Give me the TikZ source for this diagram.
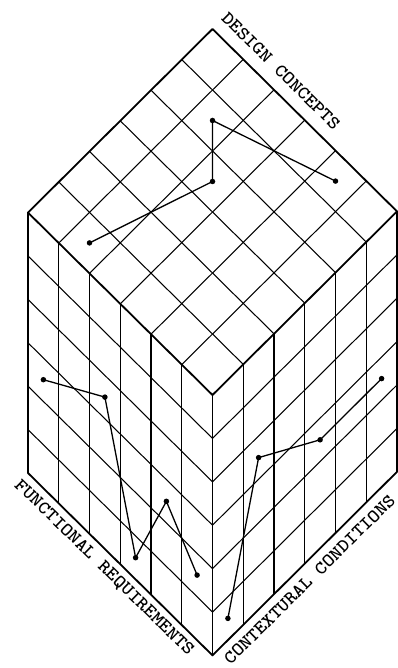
\documentclass[tikz,border=0pt]{standalone}
\usepackage{fontspec}
\newfontfamily\typewriter{lmmonolt10-bold.otf}
\newcommand{\axistext}[1]{\scalebox{1.09}[1]{\typewriter\fontsize{18.5}{18.5}\selectfont #1}}
\begin{document}
\begin{tikzpicture}[x=1pt,y=-1pt,
  inner/.style={line width=1.05pt},
  outer/.style={line width=1.8pt, line join=round, line cap=round},
  dataline/.style={line width=1.3pt, line join=round},
  dot/.style={circle, fill=black, inner sep=0pt, minimum size=5.5pt},
  axislabel/.style={inner sep=0pt}]
\useasboundingbox (0,0) rectangle (398,668);
% cube corners
\coordinate (T) at (212.5,29);
\coordinate (L) at (28,212.6);
\coordinate (R) at (397,211.4);
\coordinate (F) at (212.5,395);
\coordinate (LB) at (28,473);
\coordinate (FB) at (212.5,655.4);
\coordinate (RB) at (397,471.8);
% top face grid
\foreach \i in {1,...,5} {
  \draw[inner] (212.5-30.75*\i, 29+30.6*\i) -- ++(184.5,182.4);
  \draw[inner] (212.5+30.75*\i, 29+30.4*\i) -- ++(-184.5,183.6);
}
% left face grid
\foreach \i in {1,...,5} {
  \draw[inner] (28+30.75*\i, 212.6+30.4*\i) -- ++(0,260.4);
  \draw[inner] (28, 212.6+43.4*\i) -- ++(184.5,182.4);
}
% right face grid
\foreach \i in {1,...,5} {
  \draw[inner] (212.5+30.75*\i, 395-30.6*\i) -- ++(0,260.4);
  \draw[inner] (212.5, 395+43.4*\i) -- ++(184.5,-183.6);
}
% outer edges
\draw[outer] (T) -- (L) -- (F) -- (R) -- cycle;
\draw[outer] (L) -- (LB) -- (FB) -- (RB) -- (R);
\draw[outer] (F) -- (FB);
% design concepts (top face)
\node[dot] (c1) at (89.5,242.9) {};
\node[dot] (c2) at (212.5,181.5) {};
\node[dot] (c3) at (212.5,120.5) {};
\node[dot] (c4) at (335.5,181.1) {};
\draw[dataline] (c1.center) -- (c2.center) -- (c3.center) -- (c4.center);
% functional requirements (left face)
\node[dot] (f1) at (43.4,379.7) {};
\node[dot] (f2) at (104.9,397.1) {};
\node[dot] (f3) at (135.6,557.7) {};
\node[dot] (f4) at (166.4,501.3) {};
\node[dot] (f5) at (197.1,575.1) {};
\draw[dataline] (f1.center) -- (f2.center) -- (f3.center) -- (f4.center) -- (f5.center);
% contextural conditions (right face)
\node[dot] (k1) at (227.9,618.4) {};
\node[dot] (k2) at (258.6,457.6) {};
\node[dot] (k3) at (320.1,439.8) {};
\node[dot] (k4) at (381.6,378.6) {};
\draw[dataline] (k1.center) -- (k2.center) -- (k3.center) -- (k4.center);
% labels
\node[axislabel, rotate=-44.7] (dc) at (281,71) {\axistext{DESIGN CONCEPTS}};
\node[axislabel, rotate=-44.3] (fr) at (104,568) {\axistext{FUNCTIONAL REQUIREMENTS}};
\node[axislabel, rotate=44.6] (cc) at (309.5,579.5) {\axistext{CONTEXTURAL CONDITIONS}};
\end{tikzpicture}
\end{document}
